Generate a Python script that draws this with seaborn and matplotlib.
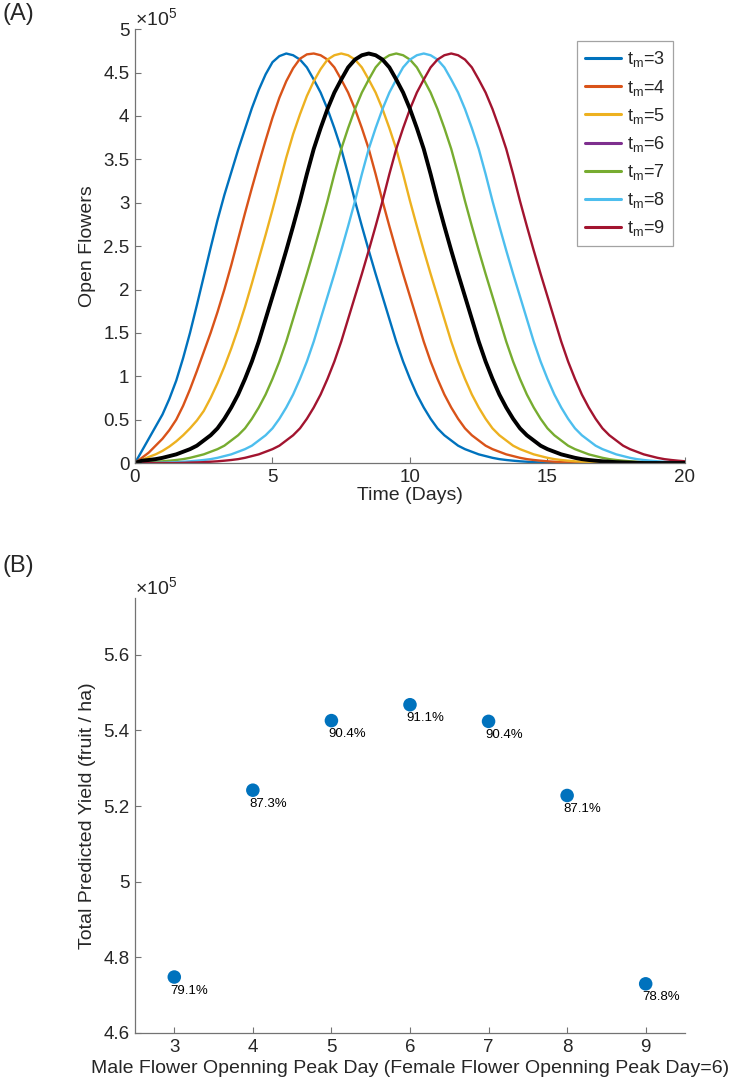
import numpy as np
import pandas as pd
import matplotlib
matplotlib.use("Agg")
import matplotlib.pyplot as plt
import seaborn as sns
from matplotlib.ticker import FuncFormatter

# ---- data ----
# panel A: open flowers (x 1e5) on a 0.25 day grid, t = 0 .. 20
time_days = np.arange(0, 20.01, 0.25)

flowers_tm3 = [0.0, 0.14, 0.28, 0.42, 0.56, 0.74, 0.95, 1.21, 1.50, 1.82, 2.15, 2.48,
               2.80, 3.09, 3.35, 3.61, 3.85, 4.09, 4.30, 4.48, 4.62, 4.69, 4.72,
               4.70, 4.65, 4.56, 4.42, 4.27, 4.08, 3.86, 3.62, 3.33, 3.02,
               2.73, 2.45, 2.18, 1.92, 1.66, 1.40, 1.17, 0.97, 0.79, 0.64,
               0.51, 0.40, 0.32, 0.26, 0.20, 0.16, 0.13, 0.10, 0.08, 0.06,
               0.045, 0.035, 0.027, 0.02, 0.015, 0.01, 0.007, 0.005, 0.002,
               0, 0, 0, 0, 0, 0, 0, 0, 0, 0, 0, 0, 0, 0, 0, 0, 0, 0, 0]
flowers_tm4 = [0.0, 0.06, 0.12, 0.20, 0.28, 0.38, 0.50, 0.66, 0.85, 1.06, 1.28, 1.50,
               1.74, 2.00, 2.28, 2.58, 2.88, 3.17, 3.45, 3.72, 3.98, 4.21, 4.40,
               4.55, 4.66, 4.71, 4.72,
               4.70, 4.65, 4.56, 4.42, 4.27, 4.08, 3.86, 3.62, 3.33, 3.02,
               2.73, 2.45, 2.18, 1.92, 1.66, 1.40, 1.17, 0.97, 0.79, 0.64,
               0.51, 0.40, 0.32, 0.26, 0.20, 0.16, 0.13, 0.10, 0.08, 0.06,
               0.045, 0.035, 0.027, 0.02, 0.015, 0.01, 0.007, 0.005, 0.002,
               0, 0, 0, 0, 0, 0, 0, 0, 0, 0, 0, 0, 0, 0, 0]
flowers_tm5 = [0.0, 0.035, 0.07, 0.10, 0.14, 0.19, 0.25, 0.32, 0.40, 0.49, 0.60, 0.75,
               0.92, 1.11, 1.32, 1.55, 1.80, 2.07, 2.35, 2.63, 2.92, 3.22, 3.52,
               3.79, 4.02, 4.23, 4.40, 4.54, 4.65, 4.70, 4.72,
               4.70, 4.65, 4.56, 4.42, 4.27, 4.08, 3.86, 3.62, 3.33, 3.02,
               2.73, 2.45, 2.18, 1.92, 1.66, 1.40, 1.17, 0.97, 0.79, 0.64,
               0.51, 0.40, 0.32, 0.26, 0.20, 0.16, 0.13, 0.10, 0.08, 0.06,
               0.045, 0.035, 0.027, 0.02, 0.015, 0.01, 0.007, 0.005, 0.002,
               0, 0, 0, 0, 0, 0, 0, 0, 0, 0, 0]
flowers_tm6 = [0.0, 0.027, 0.035, 0.045, 0.06, 0.08, 0.10, 0.13, 0.16, 0.20, 0.26, 0.32,
               0.40, 0.51, 0.64, 0.79, 0.97, 1.17, 1.40, 1.66, 1.92, 2.18, 2.45,
               2.73, 3.02, 3.33, 3.62, 3.86, 4.08, 4.27, 4.42, 4.56, 4.65, 4.70, 4.72,
               4.70, 4.65, 4.56, 4.42, 4.27, 4.08, 3.86, 3.62, 3.33, 3.02,
               2.73, 2.45, 2.18, 1.92, 1.66, 1.40, 1.17, 0.97, 0.79, 0.64,
               0.51, 0.40, 0.32, 0.26, 0.20, 0.16, 0.13, 0.10, 0.08, 0.06,
               0.045, 0.035, 0.027, 0.02, 0.015, 0.01, 0.007, 0.005, 0.002,
               0, 0, 0, 0, 0, 0, 0]
flowers_tm7 = [0.0, 0.007, 0.01, 0.015, 0.02, 0.027, 0.035, 0.045, 0.06, 0.08, 0.10, 0.13,
               0.16, 0.20, 0.26, 0.32, 0.40, 0.51, 0.64, 0.79, 0.97, 1.17, 1.40,
               1.66, 1.92, 2.18, 2.45, 2.73, 3.02, 3.33, 3.62, 3.86, 4.08, 4.27,
               4.42, 4.56, 4.65, 4.70, 4.72,
               4.70, 4.65, 4.56, 4.42, 4.27, 4.08, 3.86, 3.62, 3.33, 3.02,
               2.73, 2.45, 2.18, 1.92, 1.66, 1.40, 1.17, 0.97, 0.79, 0.64,
               0.51, 0.40, 0.32, 0.26, 0.20, 0.16, 0.13, 0.10, 0.08, 0.06,
               0.045, 0.035, 0.027, 0.02, 0.015, 0.01, 0.007, 0.005, 0.002,
               0, 0, 0]
flowers_tm8 = [0, 0, 0, 0.002, 0.005, 0.007, 0.01, 0.015, 0.02, 0.027, 0.035, 0.045,
               0.06, 0.08, 0.10, 0.13, 0.16, 0.20, 0.26, 0.32, 0.40, 0.51, 0.64,
               0.79, 0.97, 1.17, 1.40, 1.66, 1.92, 2.18, 2.45, 2.73, 3.02, 3.33,
               3.62, 3.86, 4.08, 4.27, 4.42, 4.56, 4.65, 4.70, 4.72,
               4.70, 4.65, 4.56, 4.42, 4.27, 4.08, 3.86, 3.62, 3.33, 3.02,
               2.73, 2.45, 2.18, 1.92, 1.66, 1.40, 1.17, 0.97, 0.79, 0.64,
               0.51, 0.40, 0.32, 0.26, 0.20, 0.16, 0.13, 0.10, 0.08, 0.06,
               0.045, 0.035, 0.027, 0.02, 0.015, 0.01, 0.007, 0.005]
flowers_tm9 = [0, 0, 0, 0, 0, 0, 0, 0.002, 0.005, 0.007, 0.01, 0.015,
               0.02, 0.027, 0.035, 0.045, 0.06, 0.08, 0.10, 0.13, 0.16, 0.20, 0.26,
               0.32, 0.40, 0.51, 0.64, 0.79, 0.97, 1.17, 1.40, 1.66, 1.92, 2.18,
               2.45, 2.73, 3.02, 3.33, 3.62, 3.86, 4.08, 4.27, 4.42, 4.56, 4.65, 4.70, 4.72,
               4.70, 4.65, 4.56, 4.42, 4.27, 4.08, 3.86, 3.62, 3.33, 3.02,
               2.73, 2.45, 2.18, 1.92, 1.66, 1.40, 1.17, 0.97, 0.79, 0.64,
               0.51, 0.40, 0.32, 0.26, 0.20, 0.16, 0.13, 0.10, 0.08, 0.06,
               0.045, 0.035, 0.027, 0.02]

tm_labels = ["$t_m$=3", "$t_m$=4", "$t_m$=5", "$t_m$=6", "$t_m$=7", "$t_m$=8", "$t_m$=9"]
line_colors = ["#0072BD", "#D95319", "#EDB120", "#7E2F8E", "#77AC30", "#4DBEEE", "#A2142F"]

# panel B: total predicted yield (x 1e5) per male peak day
peak_days = [3, 4, 5, 6, 7, 8, 9]
yield_e5 = [4.748, 5.242, 5.426, 5.468, 5.424, 5.228, 4.730]
yield_pct = ["79.1%", "87.3%", "90.4%", "91.1%", "90.4%", "87.1%", "78.8%"]

# ---- style ----
sns.set_style("ticks")
plt.rcParams["font.family"] = ["Liberation Sans", "DejaVu Sans"]
plt.rcParams["mathtext.default"] = "regular"
plt.rcParams["xtick.direction"] = "in"
plt.rcParams["ytick.direction"] = "in"
txt = "#262626"
axc = "0.45"

fig = plt.figure(figsize=(7.5, 10.9), dpi=100)
ax1 = fig.add_axes([0.18, 0.5752, 0.7333, 0.398])
ax2 = fig.add_axes([0.18, 0.0523, 0.7333, 0.399])

# ---- panel A ----
all_curves = [flowers_tm3, flowers_tm4, flowers_tm5, flowers_tm6, flowers_tm7, flowers_tm8, flowers_tm9]
frames = []
for lab, vals in zip(tm_labels, all_curves):
    assert len(vals) == len(time_days), (lab, len(vals))
    frames.append(pd.DataFrame({"t": time_days, "v": vals, "tm": lab}))
df = pd.concat(frames, ignore_index=True)

sns.lineplot(data=df, x="t", y="v", hue="tm", palette=line_colors, hue_order=tm_labels,
             linewidth=1.7, errorbar=None, ax=ax1)
# female curve drawn black on top
sns.lineplot(x=time_days, y=flowers_tm6, color="black", linewidth=2.8, errorbar=None,
             legend=False, ax=ax1)

leg = ax1.legend(loc="upper right", bbox_to_anchor=(0.978, 0.972), borderaxespad=0,
                 fontsize=13, frameon=True, fancybox=False, edgecolor="0.55",
                 handlelength=2.0, labelspacing=0.45, borderpad=0.45, handletextpad=0.3)
leg.get_frame().set_linewidth(0.9)
for lh in leg.get_lines():
    lh.set_linewidth(2.2)

ax1.set_xlim(0, 20)
ax1.set_ylim(0, 5)
ax1.set_xticks([0, 5, 10, 15, 20])
ax1.set_yticks(np.arange(0, 5.01, 0.5))
ax1.set_xlabel("Time (Days)", fontsize=14, color=txt, labelpad=1)
ax1.set_ylabel("Open Flowers", fontsize=14, color=txt, labelpad=5)
ax1.text(0.0, 1.0, r"$\times10^5$", transform=ax1.transAxes, fontsize=14, color=txt,
         ha="left", va="bottom")
fig.text(0.003, 0.997, "(A)", fontsize=17, color=txt, ha="left", va="top")

# ---- panel B ----
sns.scatterplot(x=peak_days, y=yield_e5, color="#0072BD", s=95, edgecolor="none", ax=ax2)
for d, y, p in zip(peak_days, yield_e5, yield_pct):
    ax2.annotate(p, (d, y), xytext=(-2.5, -5.5), textcoords="offset points",
                 ha="left", va="top", fontsize=9.5, color="black")

ax2.set_xlim(2.5, 9.5)
ax2.set_ylim(4.6, 5.75)
ax2.set_xticks(peak_days)
ax2.set_yticks([4.6, 4.8, 5.0, 5.2, 5.4, 5.6])
ax2.set_xlabel("Male Flower Openning Peak Day (Female Flower Openning Peak Day=6)",
               fontsize=14, color=txt, labelpad=3)
ax2.set_ylabel("Total Predicted Yield (fruit / ha)", fontsize=14, color=txt, labelpad=5)
ax2.text(0.0, 1.0, r"$\times10^5$", transform=ax2.transAxes, fontsize=14, color=txt,
         ha="left", va="bottom")
fig.text(0.003, 0.491, "(B)", fontsize=17, color=txt, ha="left", va="top")

fmt = FuncFormatter(lambda v, pos: "{:g}".format(round(v, 3)))
for ax in (ax1, ax2):
    sns.despine(ax=ax)
    ax.yaxis.set_major_formatter(fmt)
    ax.xaxis.set_major_formatter(fmt)
    for sp in ("left", "bottom"):
        ax.spines[sp].set_color(axc)
        ax.spines[sp].set_linewidth(0.9)
    ax.tick_params(labelsize=13.5, colors=axc, labelcolor=txt, length=4, width=0.8, pad=4)

fig.savefig("out.png", dpi=100)
